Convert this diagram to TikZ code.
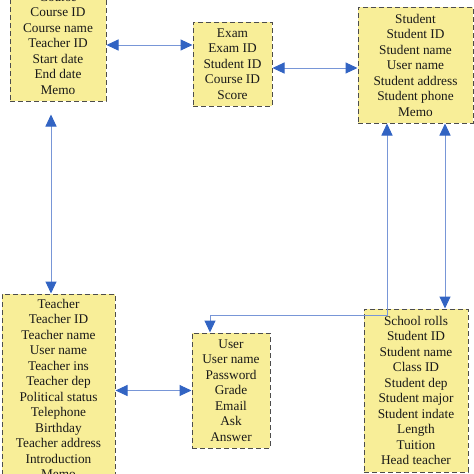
\documentclass[tikz,border=0pt]{standalone}
\usepackage{fontspec}
\setmainfont{Liberation Serif}
\usepackage{tikz}
\usetikzlibrary{arrows.meta,calc}
\definecolor{boxfill}{RGB}{248,238,152}
\definecolor{lineblue}{RGB}{120,150,215}
\definecolor{tipblue}{RGB}{50,100,195}

\begin{document}
\begin{tikzpicture}[x=1pt,y=-1pt,
    table/.style={draw=black!70, fill=boxfill, dash pattern=on 5pt off 3pt, line width=1pt,
        align=center, inner sep=0pt, text=black!90, font=\fontsize{13.3}{15.5}\selectfont},
    link/.style={draw=lineblue, line width=1pt, <->},
    >={Triangle[length=12pt,width=11pt,color=tipblue]}]
    \clip (0,0) rectangle (474,474);
    \node[table, minimum width=96pt, minimum height=115pt] (course) at (58,43.5)
        {Course\\Course ID\\Course name\\Teacher ID\\Start date\\End date\\Memo};
    \node[table, minimum width=79pt, minimum height=84pt] (exam) at (232.5,64)
        {Exam\\Exam ID\\Student ID\\Course ID\\Score};
    \node[table, minimum width=115pt, minimum height=116pt] (student) at (415.5,65)
        {Student\\Student ID\\Student name\\User name\\Student address\\Student phone\\Memo};
    \node[table, minimum width=113pt, minimum height=190pt] (teacher) at (58.5,389)
        {Teacher\\Teacher ID\\Teacher name\\User name\\Teacher ins\\Teacher dep\\Political status\\Telephone\\Birthday\\Teacher address\\Introduction\\Memo};
    \node[table, minimum width=78pt, minimum height=115pt] (user) at (231,390.5)
        {User\\User name\\Password\\Grade\\Email\\Ask\\Answer};
    \node[table, minimum width=104pt, minimum height=163pt] (rolls) at (416,390.5)
        {School rolls\\Student ID\\Student name\\Class ID\\Student dep\\Student major\\Student indate\\Length\\Tuition\\Head teacher};

    \draw[link] ([yshift=-1.5pt]course.east) -- ([yshift=-1.5pt]course.east -| exam.west);
    \draw[link] ([yshift=-4pt]exam.east) -- ([yshift=-4pt]exam.east -| student.west);
    \draw[link] ($(course.south)+(-7,13)$) -- ($(teacher.north)+(-7.5,0)$);
    \draw[link] ([xshift=29.5pt]student.south) -- ([xshift=29.5pt]student.south |- rolls.north);
    \coordinate (bend) at ($(user.north)+(-21,-17)$);
    \draw[link] ([xshift=-28.5pt]student.south) |- (bend) -- ([xshift=-21pt]user.north);
    \draw[link] (user.west) -- (user.west -| teacher.east);
\end{tikzpicture}
\end{document}
